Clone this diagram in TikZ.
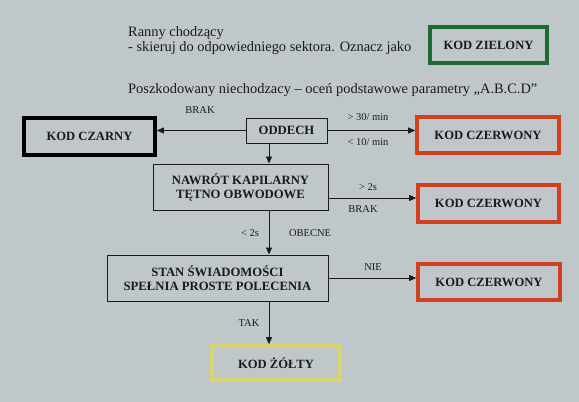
\documentclass[tikz,border=0pt]{standalone}
\usepackage{fontspec}
\setmainfont{Liberation Serif}
\usetikzlibrary{arrows.meta}
\definecolor{bg}{HTML}{C0C7CA}
\definecolor{kgreen}{HTML}{1F6A30}
\definecolor{kred}{HTML}{D2401E}
\definecolor{kyellow}{HTML}{D9D46C}
\definecolor{ink}{HTML}{1A1A1A}
\begin{document}
\begin{tikzpicture}[x=1pt,y=-1pt,
  box/.style={draw=ink,line width=1pt,minimum width=#1,inner sep=0pt,align=center,text=ink,
     font=\fontsize{12.7}{14}\selectfont\bfseries},
  kod/.style={draw=#1,line width=3.6pt,inner sep=0pt,text=ink,font=\fontsize{12.6}{14}\selectfont\bfseries},
  lbl/.style={text=ink,inner sep=0pt,font=\fontsize{10.5}{12}\selectfont},
  txt/.style={text=ink,inner sep=0pt,anchor=base west,font=\fontsize{14.4}{16}\selectfont},
  arr/.style={draw=ink,line width=0.9pt,-{Triangle[length=7pt,width=6pt]}}]
\fill[bg] (0,0) rectangle (579,402);
\useasboundingbox (0,0) rectangle (579,402);

% top texts
\node[txt] (t1) at (128,36.5) {Ranny chodzący};
\node[txt] (t2) at (128,51.5) {- skieruj do odpowiedniego sektora. Oznacz jako};
\node[txt] (t3) at (128,93.5) {Poszkodowany niechodzacy – oceń podstawowe parametry „A.B.C.D”};

% boxes
\node[kod=kgreen,minimum width=117pt,minimum height=36pt] (zielony) at (488.5,45) {KOD ZIELONY};
\node[kod=black,minimum width=131pt,minimum height=37pt] (czarny) at (89.5,136.5) {KOD CZARNY};
\node[box=81pt,minimum height=25pt] (oddech) at (286.5,130.5) {ODDECH};
\node[kod=kred,minimum width=142pt,minimum height=36pt] (czerw1) at (488,135) {KOD CZERWONY};
\node[box=175pt,minimum height=46pt] (nawrot) at (240.5,187) {NAWRÓT KAPILARNY\\TĘTNO OBWODOWE};
\node[kod=kred,minimum width=141pt,minimum height=37pt] (czerw2) at (488.5,203.5) {KOD CZERWONY};
\node[box=221pt,minimum height=46pt] (stan) at (217.5,278) {STAN ŚWIADOMOŚCI\\SPEŁNIA PROSTE POLECENIA};
\node[kod=kred,minimum width=142pt,minimum height=36pt] (czerw3) at (489,282) {KOD CZERWONY};
\node[kod=kyellow,minimum width=128pt,minimum height=34pt] (zolty) at (276,363) {KOD ŻÓŁTY};

% connectors
\coordinate (vx) at (269,0);
\coordinate (hy) at (0,198);
\draw[arr] (oddech.west) -- (oddech.west -| czarny.east);
\draw[arr] (oddech.east) -- (oddech.east -| czerw1.west);
\draw[arr] (vx |- oddech.south) -- (vx |- nawrot.north);
\draw[arr] (nawrot.east |- hy) -- (czerw2.west |- hy);
\draw[arr] (vx |- nawrot.south) -- (vx |- stan.north);
\draw[arr] (stan.east) -- (stan.east -| czerw3.west);
\draw[arr] (vx |- stan.south) -- (vx |- zolty.north);

% labels
\node[lbl] (l1) at (200,110) {BRAK};
\node[lbl] (l2) at (368,117) {> 30/ min};
\node[lbl] (l3) at (368,142) {< 10/ min};
\node[lbl] (l4) at (368,187) {> 2s};
\node[lbl] (l5) at (363,209) {BRAK};
\node[lbl] (l6) at (250,233) {< 2s};
\node[lbl] (l7) at (310,233) {OBECNE};
\node[lbl] (l8) at (373,267) {NIE};
\node[lbl] (l9) at (249,323) {TAK};
\end{tikzpicture}
\end{document}
